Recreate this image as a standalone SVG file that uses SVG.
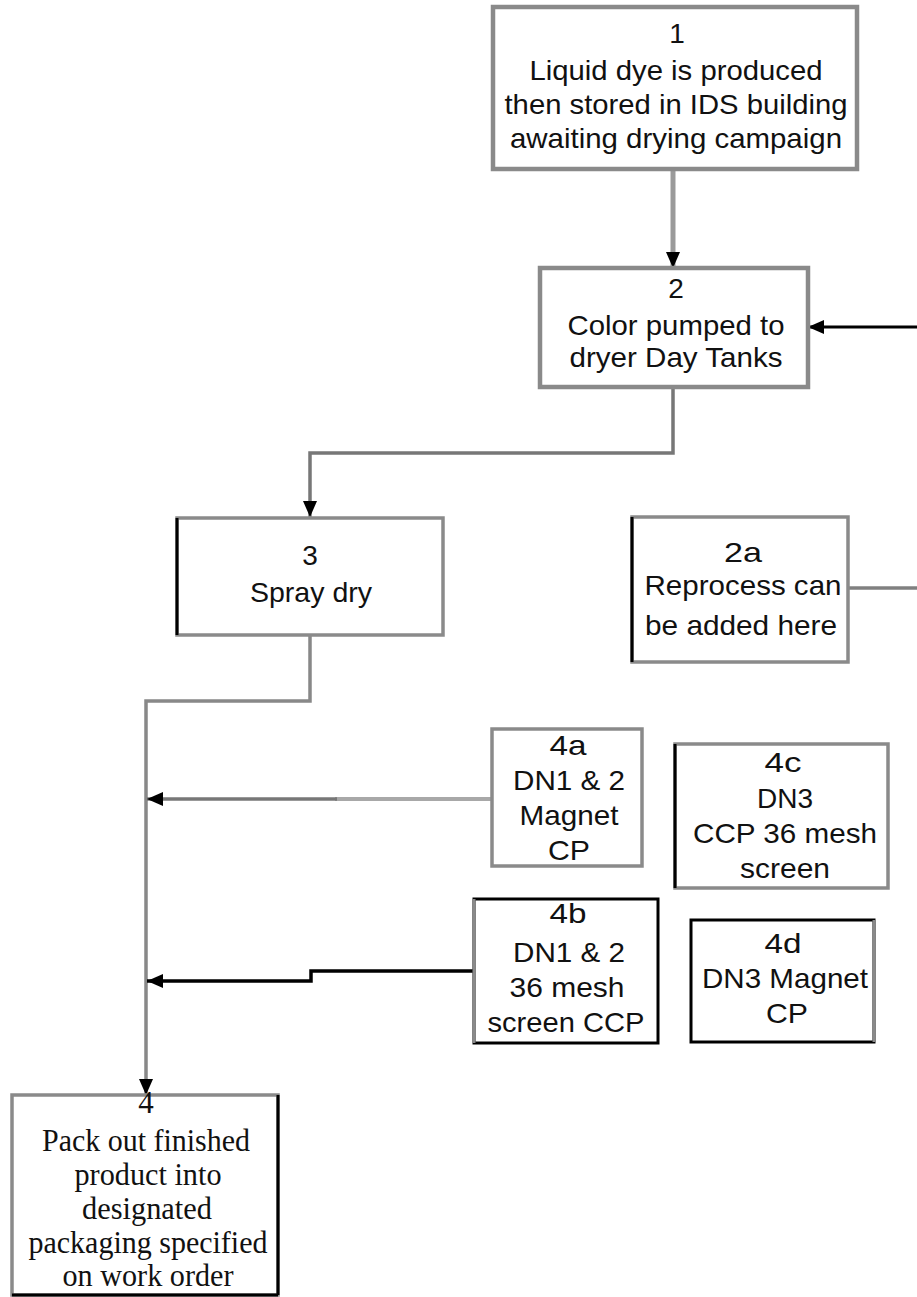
<svg xmlns="http://www.w3.org/2000/svg" width="917" height="1297" viewBox="0 0 917 1297">
<style>
.bg{fill:#fff}
.box{fill:#fff;stroke:#8a8a8a;stroke-width:3.5}
.boxk{fill:#fff;stroke:#000;stroke-width:3}
.blk{stroke:#000;stroke-width:3;fill:none}
.gry{stroke:#8a8a8a;stroke-width:3;fill:none}
.t{font-family:"Liberation Sans",Arial,sans-serif;font-size:28px;fill:#111;text-anchor:middle}
.s{font-family:"Liberation Serif","Times New Roman",serif;font-size:31px;fill:#111;text-anchor:middle}
.c{fill:none}
</style>
<defs>
<marker id="ah" viewBox="0 0 16 14" refX="16" refY="7" markerWidth="16" markerHeight="14" markerUnits="userSpaceOnUse" orient="auto">
<path d="M0,0 L16,7 L0,14 z" fill="#000"/>
</marker>
</defs>
<rect class="bg" x="0" y="0" width="917" height="1297"/>

<g id="connectors">
<path class="c" d="M673,169 V268" style="stroke:#9a9a9a;stroke-width:5" marker-end="url(#ah)"/>
<path class="c" d="M917,327 H808" style="stroke:#000;stroke-width:3" marker-end="url(#ah)"/>
<path class="c" d="M673,387 V453 H310 V517" style="stroke:#777;stroke-width:3.5" marker-end="url(#ah)"/>
<path class="c" d="M848,588 H917" style="stroke:#808080;stroke-width:3.5"/>
<path class="c" d="M310,635 V701 H146 V1095" style="stroke:#888;stroke-width:3.5" marker-end="url(#ah)"/>
<path class="c" d="M492,799 H335" style="stroke:#a8a8a8;stroke-width:4"/>
<path class="c" d="M337,799 H147" style="stroke:#777;stroke-width:3.5" marker-end="url(#ah)"/>
<path class="c" d="M475,971 H311 V981 H147" style="stroke:#000;stroke-width:3.5" marker-end="url(#ah)"/>
</g>

<g id="node1">
<rect class="box" x="493" y="7" width="364" height="162" style="stroke-width:4.5"/>
<text class="t" x="677" y="43" font-size="30">1</text>
<text class="t" x="676" y="80" textLength="293" lengthAdjust="spacingAndGlyphs">Liquid dye is produced</text>
<text class="t" x="676" y="114" textLength="343" lengthAdjust="spacingAndGlyphs">then stored in IDS building</text>
<text class="t" x="676" y="148" textLength="332" lengthAdjust="spacingAndGlyphs">awaiting drying campaign</text>
</g>

<g id="node2">
<rect class="box" x="540" y="268" width="268" height="119" style="stroke-width:4.5"/>
<text class="t" x="676" y="298" font-size="30">2</text>
<text class="t" x="676" y="335" textLength="217" lengthAdjust="spacingAndGlyphs">Color pumped to</text>
<text class="t" x="676" y="367" textLength="213" lengthAdjust="spacingAndGlyphs">dryer Day Tanks</text>
</g>

<g id="node3">
<rect class="box" x="177" y="518" width="266" height="117"/>
<line class="blk" x1="177" y1="518" x2="177" y2="635"/>
<text class="t" x="310" y="565" font-size="30">3</text>
<text class="t" x="311" y="602" textLength="122" lengthAdjust="spacingAndGlyphs">Spray dry</text>
</g>

<g id="node2a">
<rect class="box" x="632" y="517" width="216" height="145"/>
<line class="blk" x1="632" y1="517" x2="632" y2="662"/>
<text class="t" x="743" y="562" textLength="38" lengthAdjust="spacingAndGlyphs" font-size="30">2a</text>
<text class="t" x="743" y="595" textLength="197" lengthAdjust="spacingAndGlyphs">Reprocess can</text>
<text class="t" x="741" y="635" textLength="192" lengthAdjust="spacingAndGlyphs">be added here</text>
</g>

<g id="node4a">
<rect class="box" x="492" y="729" width="150" height="137"/>
<text class="t" x="568" y="755" textLength="37" lengthAdjust="spacingAndGlyphs">4a</text>
<text class="t" x="569" y="790" textLength="112" lengthAdjust="spacingAndGlyphs">DN1 &amp; 2</text>
<text class="t" x="569" y="825" textLength="99" lengthAdjust="spacingAndGlyphs">Magnet</text>
<text class="t" x="569" y="860" textLength="42" lengthAdjust="spacingAndGlyphs">CP</text>
</g>

<g id="node4c">
<rect class="box" x="675" y="744" width="213" height="144"/>
<line class="blk" x1="675" y1="744" x2="675" y2="888"/>
<text class="t" x="783" y="772" textLength="37" lengthAdjust="spacingAndGlyphs">4c</text>
<text class="t" x="785" y="808" textLength="56" lengthAdjust="spacingAndGlyphs">DN3</text>
<text class="t" x="785" y="843" textLength="184" lengthAdjust="spacingAndGlyphs">CCP 36 mesh</text>
<text class="t" x="785" y="878" textLength="90" lengthAdjust="spacingAndGlyphs">screen</text>
</g>

<g id="node4b">
<rect class="boxk" x="474" y="899" width="184" height="144"/>
<line class="gry" x1="474" y1="899" x2="474" y2="1043"/>
<text class="t" x="568" y="923" textLength="37" lengthAdjust="spacingAndGlyphs">4b</text>
<text class="t" x="569" y="962" textLength="112" lengthAdjust="spacingAndGlyphs">DN1 &amp; 2</text>
<text class="t" x="567" y="997" textLength="115" lengthAdjust="spacingAndGlyphs">36 mesh</text>
<text class="t" x="566" y="1032" textLength="157" lengthAdjust="spacingAndGlyphs">screen CCP</text>
</g>

<g id="node4d">
<rect class="boxk" x="691" y="920" width="183" height="122"/>
<line class="gry" x1="874" y1="920" x2="874" y2="1042"/>
<text class="t" x="783" y="953" textLength="37" lengthAdjust="spacingAndGlyphs">4d</text>
<text class="t" x="785" y="988" textLength="166" lengthAdjust="spacingAndGlyphs">DN3 Magnet</text>
<text class="t" x="787" y="1023" textLength="42" lengthAdjust="spacingAndGlyphs">CP</text>
</g>

<g id="node4">
<rect class="box" x="12" y="1095" width="266" height="200"/>
<line class="blk" x1="278" y1="1095" x2="278" y2="1295"/>
<line class="blk" x1="12" y1="1295" x2="278" y2="1295"/>
<text class="s" x="146" y="1113" font-size="19">4</text>
<text class="s" x="146" y="1151" textLength="208" lengthAdjust="spacingAndGlyphs">Pack out finished</text>
<text class="s" x="148" y="1185" textLength="147" lengthAdjust="spacingAndGlyphs">product into</text>
<text class="s" x="147" y="1219" textLength="130" lengthAdjust="spacingAndGlyphs">designated</text>
<text class="s" x="148" y="1253" textLength="239" lengthAdjust="spacingAndGlyphs">packaging specified</text>
<text class="s" x="148" y="1286" textLength="171" lengthAdjust="spacingAndGlyphs" font-size="30">on work order</text>
</g>
</svg>
